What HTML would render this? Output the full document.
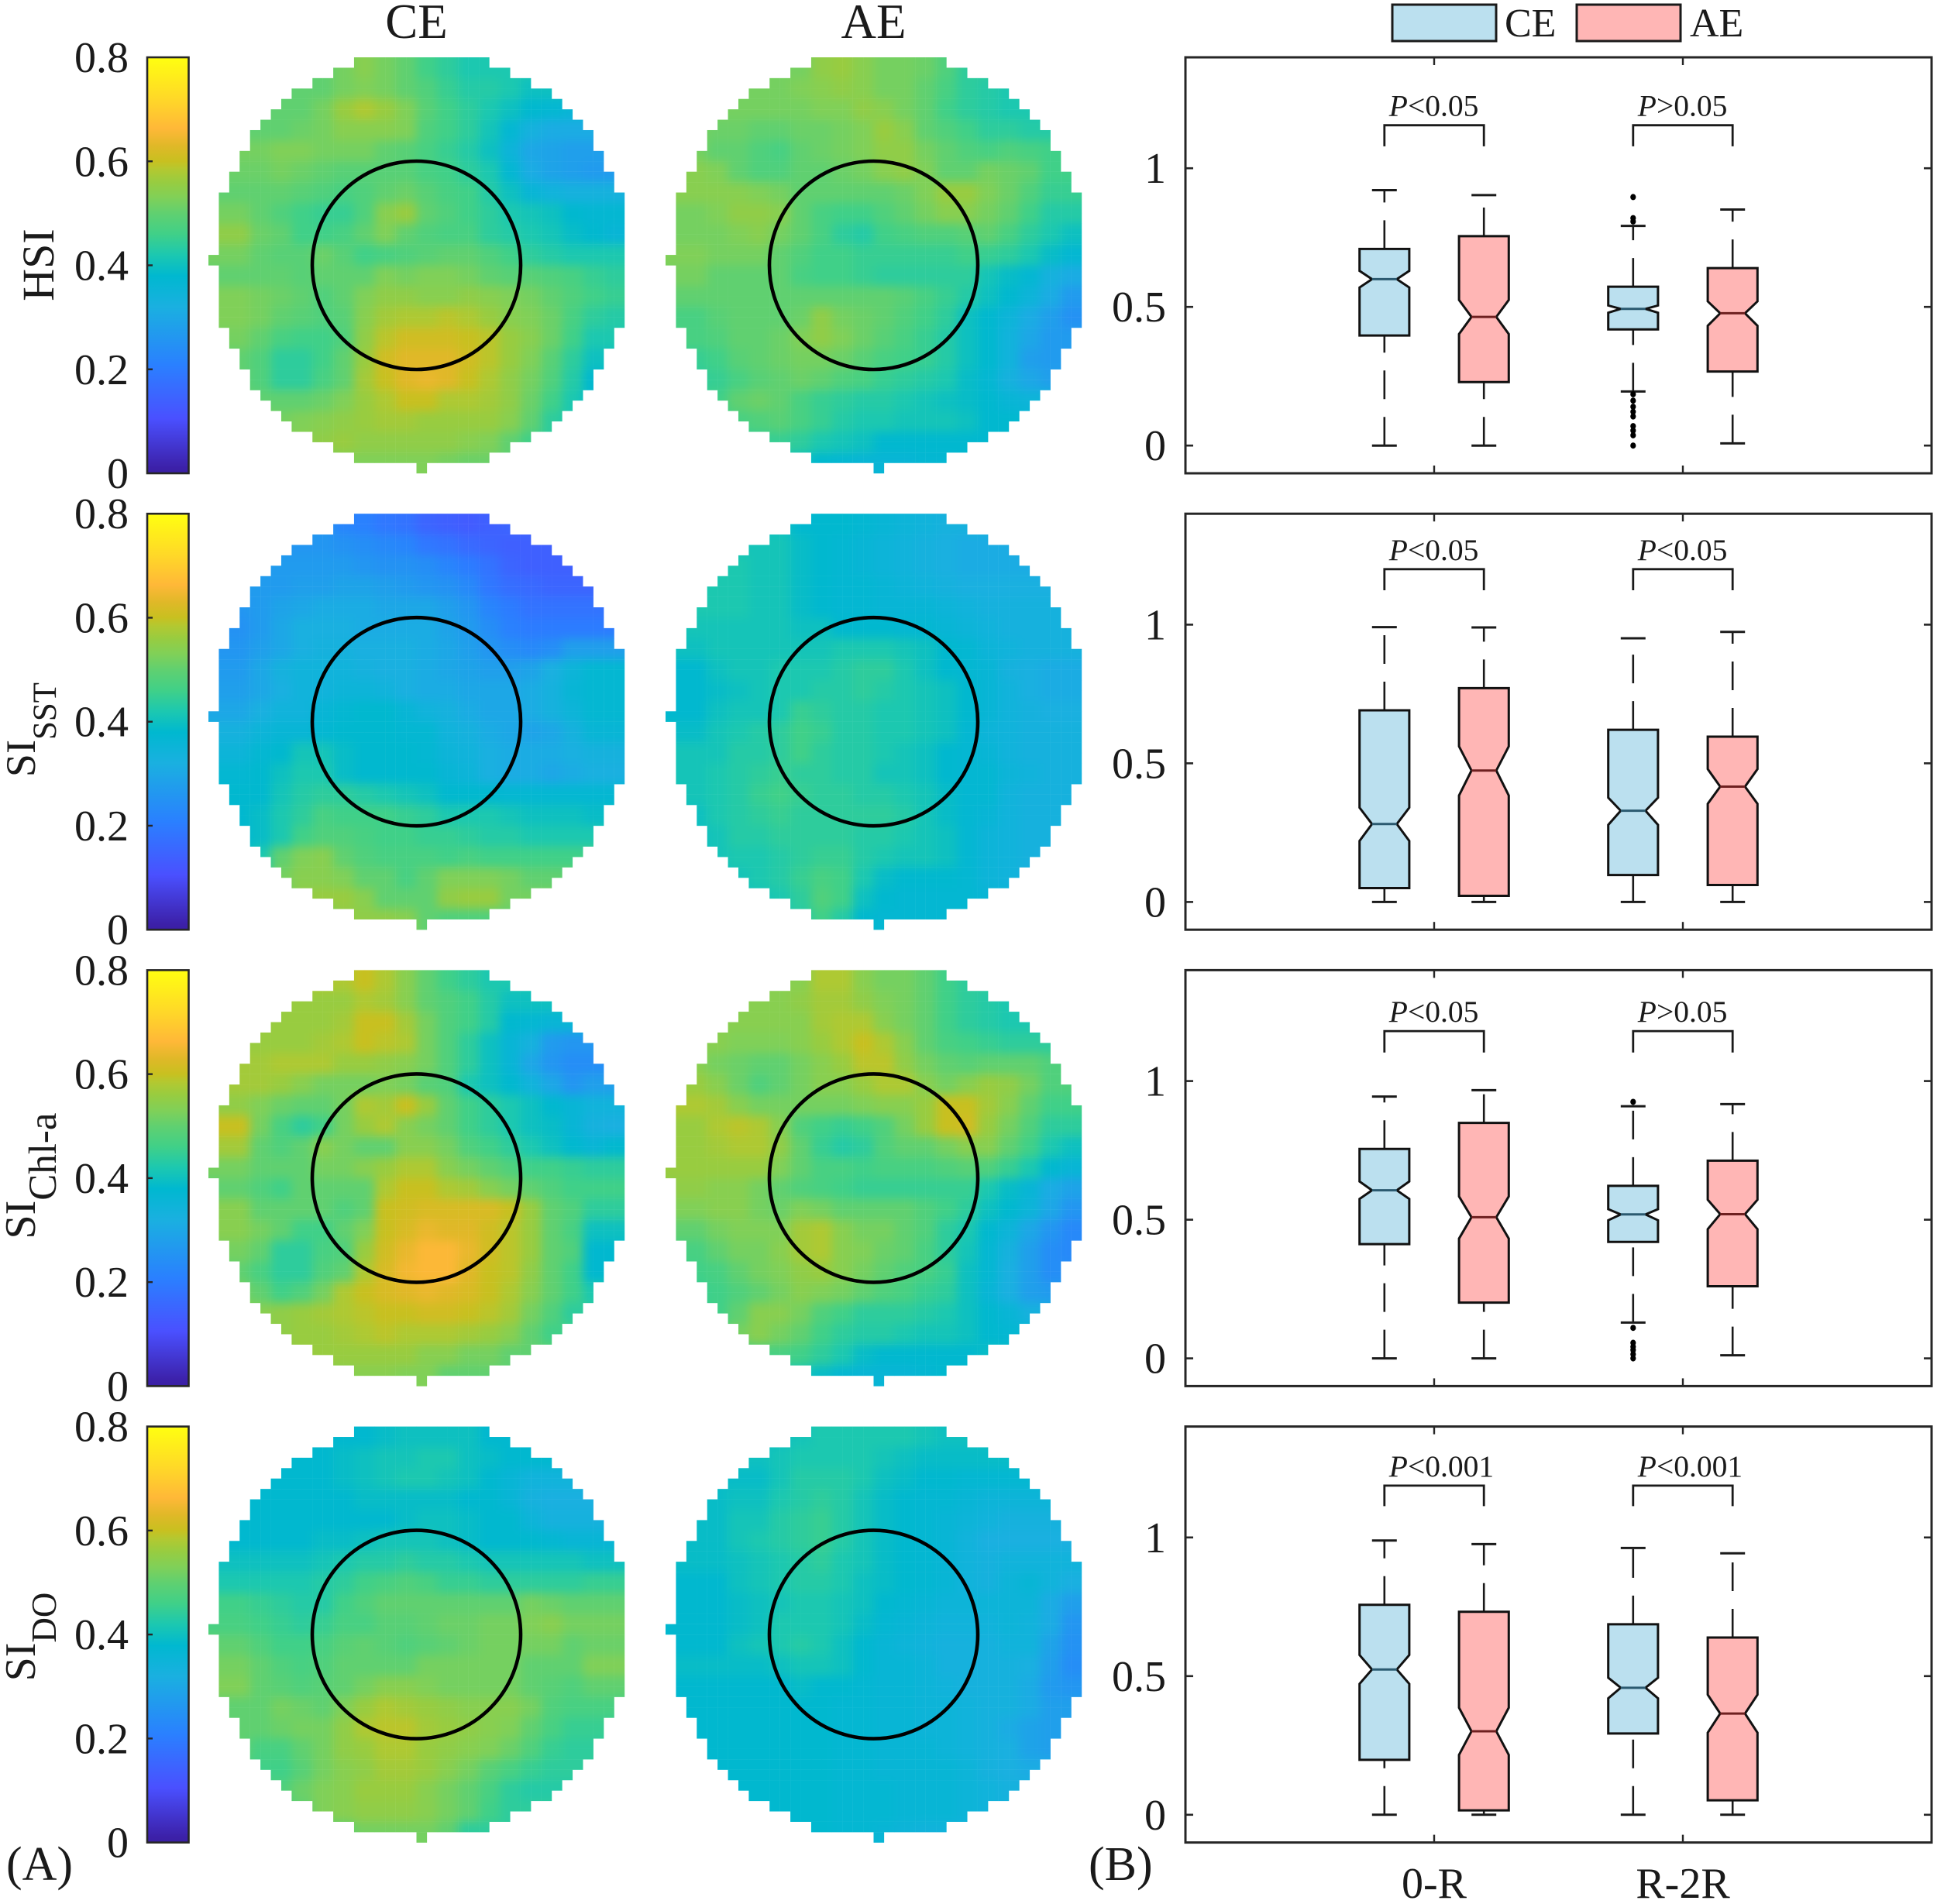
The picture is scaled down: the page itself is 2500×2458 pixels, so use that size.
<!DOCTYPE html>
<html lang="en">
<head>
<meta charset="utf-8">
<title>HSI and SI composites with notched box plots</title>
<style>
html,body{margin:0;padding:0;background:#fff;}
svg{display:block;font-family:"Liberation Serif",serif;fill:#1a1a1a;}
</style>
</head>
<body>
<svg id="fig" xmlns="http://www.w3.org/2000/svg" width="2500" height="2458" viewBox="0 0 2500 2458">
<defs id="defs"></defs>
<rect x="0" y="0" width="2500" height="2458" fill="#fff"/>
<g id="maps"></g>
<g id="colorbars"></g>
<g id="boxes"></g>

<text x="537.5" y="49" font-size="63" text-anchor="middle">CE</text>
<text x="1127.5" y="49" font-size="63" text-anchor="middle">AE</text>

<text transform="translate(69,342) rotate(-90)" font-size="58" text-anchor="middle">HSI</text>
<text transform="translate(45,942) rotate(-90)" font-size="54" text-anchor="middle">SI<tspan font-size="43" dy="27">SST</tspan></text>
<text transform="translate(45,1518) rotate(-90)" font-size="56" text-anchor="middle">SI<tspan font-size="51" dy="27">Chl-a</tspan></text>
<text transform="translate(45,2113) rotate(-90)" font-size="56" text-anchor="middle">SI<tspan font-size="45" dy="27">DO</tspan></text>

<text x="8" y="2427" font-size="62">(A)</text>
<text x="1405" y="2427" font-size="62">(B)</text>

<g>
<rect x="1797" y="6" width="134" height="47" fill="#bbe0ef" stroke="#1a1a1a" stroke-width="3"/>
<text x="1942" y="47" font-size="52">CE</text>
<rect x="2035" y="6" width="134" height="47" fill="#ffb6b5" stroke="#1a1a1a" stroke-width="3"/>
<text x="2181" y="47" font-size="52">AE</text>
</g>
</svg>

<script>
/* ---------- Box plot data: one row per panel, one value per box ---------- */
const panelNames = ['hsi','si-sst','si-chl-a','si-do'];
const boxGroups = ['0-R CE','0-R AE','R-2R CE','R-2R AE'];
const xCategories = ['0-R','R-2R'];
const boxTickLabels = ['0','0.5','1'];
const boxTickValues = [0,0.5,1];
const whiskerLow = [[0,0,.195,.008],[0,0,0,0],[0,0,.129,.011],[0,0,0,0]];
const quartile1 = [[.397,.229,.419,.267],[.05,.022,.097,.061],[.412,.201,.42,.26],[.198,.016,.293,.052]];
const notchLow = [[.57,.402,.479,.432],[.22,.384,.278,.354],[.575,.432,.498,.466],[.472,.216,.42,.296]];
const median = [[.6,.464,.493,.477],[.281,.474,.329,.416],[.606,.509,.519,.52],[.524,.301,.458,.365]];
const notchHigh = [[.63,.525,.505,.52],[.34,.561,.376,.479],[.638,.584,.538,.572],[.576,.386,.494,.433]];
const quartile3 = [[.709,.755,.573,.64],[.691,.771,.621,.596],[.755,.849,.622,.713],[.757,.732,.687,.639]];
const whiskerHigh = [[.921,.903,.792,.851],[.991,.99,.951,.974],[.944,.967,.909,.917],[.989,.976,.962,.943]];
const outliers = [
 [[],[],[.896,.82,.808,.185,.162,.14,.122,.105,.07,.054,.037,0],[]],
 [[],[],[],[]],
 [[],[],[.925,.11,.056,.042,.03,.015,0],[]],
 [[],[],[],[]]
];
const pLabels = [['<0.05','>0.05'],['<0.05','<0.05'],['<0.05','>0.05'],['<0.001','<0.001']];
const bracketTop = [1.155,1.2,1.18,1.187];
const bracketEnd = [1.079,1.124,1.103,1.113];

/* ---------- Colour bar ---------- */
const colorbarTickLabels = ['0','0.2','0.4','0.6','0.8'];
const colorbarTickValues = [0,0.2,0.4,0.6,0.8];
const colormapValues = [0,.01,.105,.208,.32,.379,.42,.46,.5,.53,.56,.585,.6,.63,.663,.72,.8];
const colormapColors = ['#3a1fa5','#3c20a8','#4a50ff','#2a80ff','#1ab0e0','#00b8d0','#1cc8b0','#40d088','#60d070','#80d058','#98cc40','#b4c830','#c8c020','#e0b828','#ffb838','#ffd828','#ffff10'];

/* ---------- Map values (colour-bar units x 100), read block by block, top row first ---------- */
const hsiCE = [
[50,50,50,50,50,50,52,54,52,50,46,44,42,42,42,42,42,42,42,42],
[50,50,50,50,50,50,52,53,52,50,48,45,43,43,42,40,40,40,40,40],
[50,50,50,50,50,52,56,58,56,53,49,46,44,42,40,38,37,36,36,36],
[50,50,50,50,51,52,54,54,54,53,48,46,44,41,37,33,31,31,31,31],
[52,52,52,53,53,52,52,52,50,49,47,45,43,40,35,30,29,28,28,28],
[51,51,51,52,51,50,49,49,49,49,47,46,44,42,37,31,29,28,27,27],
[50,50,50,50,49,48,47,48,50,51,49,47,46,43,40,36,34,33,33,33],
[52,52,50,48,46,45,45,48,54,56,50,48,46,44,42,41,40,38,37,37],
[55,55,51,50,46,46,47,50,53,50,48,47,47,44,43,42,41,39,38,36],
[52,52,50,49,49,51,49,46,47,48,49,50,50,48,46,44,43,42,42,42],
[50,50,50,50,49,50,50,50,53,52,53,53,52,50,49,49,48,47,45,44],
[53,53,52,51,50,48,50,53,55,55,54,54,55,54,53,52,50,48,46,45],
[53,53,52,50,49,48,49,54,57,58,58,59,58,56,54,53,51,47,44,43],
[52,52,50,47,46,46,48,55,59,61,61,61,60,59,56,54,51,46,42,42],
[50,50,48,44,44,46,50,56,61,63,63,63,61,59,56,53,49,44,40,40],
[50,50,48,44,44,47,50,57,60,63,64,63,60,58,55,52,48,43,38,38],
[50,50,50,50,50,51,53,56,58,60,60,58,58,57,55,51,46,42,38,38],
[52,52,52,52,53,54,55,56,57,57,56,56,56,56,54,50,44,42,42,42],
[52,52,52,53,54,55,56,55,55,55,55,55,54,53,50,46,44,44,44,44],
[52,52,52,52,52,52,53,53,53,53,53,52,51,51,50,50,50,50,50,50]];
const hsiAE = [
[52,52,52,52,52,52,52,55,56,54,52,52,51,48,44,44,44,44,44,44],
[52,52,52,52,52,52,53,54,55,54,52,52,50,47,44,43,42,42,42,42],
[52,52,52,52,52,52,52,53,53,55,54,52,50,46,44,43,42,42,42,42],
[52,52,51,51,50,50,51,51,52,53,56,54,50,48,46,44,44,43,43,43],
[52,52,50,50,48,47,50,51,52,53,55,55,52,50,48,47,48,47,46,46],
[54,54,53,50,48,48,50,50,51,52,54,55,53,50,50,52,51,50,46,46],
[54,54,54,54,53,52,50,50,50,50,50,51,53,56,56,53,51,48,45,45],
[52,52,53,55,55,54,50,47,46,46,48,50,52,54,54,52,50,46,43,43],
[52,52,52,53,54,52,50,47,44,43,46,47,48,48,49,50,47,44,42,40],
[53,53,52,52,52,50,48,46,46,45,45,45,45,45,46,45,44,42,39,37],
[52,52,50,50,50,50,47,46,46,45,44,44,44,44,44,41,39,37,33,31],
[50,50,50,50,50,50,50,50,50,50,50,49,47,45,43,40,38,35,31,27],
[47,47,49,50,50,50,51,55,52,51,50,48,46,44,40,38,35,31,28,25],
[47,47,48,50,50,51,53,55,53,51,49,47,45,43,40,38,34,30,27,27],
[45,45,46,49,50,51,52,52,51,49,47,46,45,43,40,38,34,28,27,27],
[44,44,45,47,49,50,51,50,48,47,45,44,43,42,39,37,33,30,28,28],
[45,45,46,50,51,50,47,45,44,43,43,42,41,40,39,38,36,35,35,35],
[44,44,45,47,48,49,47,45,43,42,42,41,41,41,40,38,38,37,37,37],
[44,44,44,44,45,45,44,42,41,40,38,38,38,38,38,38,38,38,38,38],
[42,42,42,42,42,41,40,38,37,36,36,36,37,37,38,38,38,38,38,38]];
const sstCE = [
[26,26,26,26,26,26,22,21,19,18,15,14,13,14,15,15,15,15,15,15],
[26,26,26,26,26,26,25,24,23,22,19,18,16,15,14,14,14,14,14,14],
[27,27,27,27,27,27,27,26,25,25,24,22,20,18,15,14,14,14,14,14],
[27,27,27,27,28,28,29,29,28,27,26,25,23,19,17,16,15,15,15,15],
[26,26,27,29,30,31,31,31,30,30,30,28,26,22,20,18,18,18,18,18],
[25,25,27,30,32,32,32,31,31,31,31,29,27,24,21,20,20,20,20,20],
[26,26,28,30,32,33,33,32,32,32,31,30,28,26,24,23,24,28,28,28],
[27,27,30,33,34,34,34,33,32,32,31,30,29,28,28,29,32,35,37,37],
[28,28,30,32,34,34,35,35,34,32,31,31,30,30,30,31,33,36,37,37],
[30,30,32,34,34,36,37,38,38,36,34,33,31,30,30,31,33,35,37,37],
[33,33,35,36,36,37,38,38,38,37,37,34,33,31,30,29,30,33,36,36],
[35,35,37,38,41,41,39,38,38,38,37,35,34,32,31,31,31,32,33,33],
[37,37,38,40,42,42,39,38,38,38,38,36,35,32,31,31,30,31,32,32],
[38,38,38,41,43,44,44,43,42,41,40,38,38,38,37,37,37,37,37,37],
[38,38,39,42,44,47,46,46,46,45,44,42,42,42,41,40,40,40,39,39],
[38,38,39,42,46,48,48,47,46,46,45,45,44,43,43,42,42,42,42,42],
[38,38,42,50,53,54,50,48,47,47,47,46,47,46,46,46,46,46,46,46],
[42,42,42,52,54,54,53,50,50,47,50,53,53,53,52,50,50,50,50,50],
[44,44,44,50,55,56,56,54,50,50,50,55,56,56,52,52,52,52,52,52],
[50,50,50,50,50,50,55,55,55,54,50,48,48,48,50,50,50,50,50,50]];
const sstAE = [
[40,40,40,40,40,40,38,38,38,37,36,35,34,33,33,33,33,33,33,33],
[41,41,41,41,41,41,39,38,37,36,35,34,33,32,31,31,31,31,31,31],
[42,42,42,42,41,41,39,38,37,36,35,34,33,32,31,31,31,31,31,31],
[42,42,42,42,41,41,39,38,37,37,36,35,34,33,32,32,32,32,32,32],
[42,42,42,42,41,41,39,38,37,37,36,36,36,35,34,33,33,33,33,33],
[41,41,41,41,41,41,40,40,38,38,38,37,37,36,35,34,33,33,33,33],
[40,40,41,41,41,41,41,41,42,42,42,41,40,38,37,35,34,33,33,33],
[38,38,40,41,41,42,42,42,43,44,44,42,40,38,37,36,33,32,31,31],
[38,38,39,40,41,42,42,43,43,44,43,42,41,40,38,36,34,32,31,31],
[38,38,40,41,41,42,45,44,43,43,42,42,41,40,38,36,34,33,32,32],
[39,39,41,42,43,44,46,45,43,43,42,42,41,40,37,35,34,33,33,33],
[41,41,41,43,43,44,46,44,43,43,42,41,40,38,37,36,34,33,33,33],
[41,41,42,43,44,45,44,44,43,43,41,41,40,38,37,37,35,34,33,33],
[41,41,42,43,45,46,45,44,44,43,43,42,41,39,37,37,34,33,33,33],
[40,40,42,43,44,45,44,44,44,44,44,43,41,39,37,36,34,33,33,33],
[40,40,41,43,43,44,44,44,44,43,43,42,41,40,37,35,34,33,33,33],
[40,40,41,42,42,43,44,45,45,43,42,41,41,40,37,35,34,33,32,32],
[40,40,40,41,42,43,45,47,46,42,39,38,38,38,37,35,34,33,33,33],
[40,40,40,40,41,42,44,48,46,40,38,37,37,37,37,36,36,36,36,36],
[42,42,42,42,42,42,43,46,43,38,37,37,37,37,37,37,37,37,37,37]];
const chlCE = [
[58,58,58,58,58,58,58,60,58,54,50,46,44,42,42,42,42,42,42,42],
[56,56,56,56,56,56,56,58,57,54,50,48,46,43,40,40,40,40,40,40],
[56,56,56,56,56,56,57,60,60,57,52,48,46,43,38,37,36,36,36,36],
[56,56,56,56,56,57,58,60,59,58,52,48,44,40,36,33,27,26,26,26],
[57,57,57,58,58,58,56,56,55,54,52,48,44,40,36,30,26,24,24,24],
[57,57,57,56,54,52,52,52,53,52,49,48,42,40,38,34,30,26,28,28],
[55,55,53,51,50,50,52,58,57,60,56,50,46,44,42,40,38,36,34,34],
[60,60,52,47,44,46,52,56,58,54,52,50,46,44,42,40,39,36,33,32],
[57,57,50,48,50,54,52,50,50,54,54,52,48,46,44,42,40,38,36,38],
[52,52,50,50,50,52,52,54,56,58,58,54,52,50,48,46,46,45,44,44],
[50,50,48,46,50,50,50,50,58,60,60,58,57,54,52,50,48,46,46,46],
[54,54,50,50,50,50,48,50,60,61,62,62,62,62,60,56,50,48,44,44],
[54,54,52,50,46,46,50,53,60,62,64,63,63,61,59,56,50,47,40,40],
[52,52,50,44,44,47,48,56,61,64,66,66,64,61,59,56,50,48,38,38],
[50,50,47,44,44,48,50,58,62,65,66,66,63,60,59,55,50,46,38,38],
[52,52,50,46,48,52,58,60,62,63,64,63,62,60,58,54,50,46,42,42],
[54,54,54,55,56,57,58,59,60,60,61,61,60,59,57,52,48,44,44,44],
[55,55,55,55,56,56,57,58,59,58,58,58,57,56,54,50,46,46,46,46],
[55,55,55,55,56,56,56,56,56,56,54,54,52,52,50,50,50,50,50,50],
[54,54,54,54,54,54,54,54,54,53,53,50,50,50,50,50,50,50,50,50]];
const chlAE = [
[54,54,54,54,54,54,54,58,58,54,52,52,50,46,44,44,44,44,44,44],
[54,54,54,54,54,54,55,57,57,55,53,52,50,46,44,43,42,42,42,42],
[54,54,54,54,54,54,54,57,58,58,54,52,50,46,44,43,42,42,42,42],
[54,54,54,53,53,53,54,56,58,60,58,54,50,47,46,45,44,44,44,44],
[54,54,52,51,50,50,52,54,56,59,59,55,52,50,49,50,50,50,48,48],
[56,56,54,51,48,50,52,54,54,56,58,58,54,52,54,56,55,52,48,48],
[58,58,57,54,52,52,52,52,52,53,54,54,56,60,60,57,54,50,46,46],
[56,56,58,59,58,54,48,46,45,46,48,52,56,60,61,56,52,48,44,44],
[56,56,57,58,58,55,50,45,43,44,48,50,50,52,54,54,50,46,42,40],
[56,56,56,56,56,53,50,47,47,46,47,47,47,48,49,48,45,42,38,36],
[55,55,54,54,52,50,48,47,46,45,45,45,45,45,45,42,39,36,31,29],
[53,53,54,54,52,51,53,52,50,50,50,50,48,46,44,40,38,35,30,26],
[50,50,52,53,53,53,57,58,54,52,52,50,48,44,42,38,35,30,26,23],
[47,47,50,52,52,54,57,58,54,53,51,50,47,44,41,37,33,28,24,23],
[46,46,47,50,52,53,55,56,54,52,50,48,47,45,40,37,32,28,24,24],
[45,45,46,48,50,52,54,53,52,50,48,47,45,44,40,36,32,28,27,27],
[45,45,46,50,54,54,52,48,46,44,44,44,43,42,40,38,36,33,33,33],
[47,47,48,52,54,52,50,46,44,43,43,42,41,41,40,38,37,37,37,37],
[46,46,46,46,47,47,46,44,42,39,38,38,38,38,38,39,39,39,39,39],
[42,42,42,42,42,42,41,39,37,36,36,36,37,38,38,38,38,38,38,38]];
const doCE = [
[38,38,38,38,38,38,38,38,39,40,40,40,40,38,38,38,38,38,38,38],
[38,38,38,38,38,38,39,40,41,41,42,42,40,39,38,38,38,38,38,38],
[38,38,38,38,38,38,39,40,41,42,42,41,40,38,36,34,34,34,34,34],
[38,38,38,38,38,38,38,39,39,39,39,39,38,38,36,33,32,32,32,32],
[38,38,38,38,38,38,38,38,38,39,40,40,39,38,38,35,33,33,33,33],
[38,38,38,38,38,39,39,40,41,41,41,40,39,38,38,38,37,36,36,36],
[40,40,40,40,40,41,42,43,43,44,43,43,42,41,41,41,41,41,40,40],
[42,42,42,42,42,43,44,46,47,48,47,45,45,44,44,44,44,44,45,45],
[46,46,45,44,43,43,46,48,50,50,50,50,50,50,50,52,51,50,50,50],
[47,47,46,45,44,45,47,47,49,49,50,51,51,52,52,53,54,52,52,52],
[50,50,48,46,46,47,49,50,49,48,49,50,51,52,52,52,52,50,51,51],
[52,52,50,48,47,48,50,50,50,50,52,52,52,52,52,50,50,50,53,53],
[53,53,50,49,48,49,50,52,54,54,53,52,52,52,52,50,49,48,50,50],
[50,50,50,52,51,50,53,56,58,57,56,55,54,54,54,52,48,47,47,47],
[50,50,50,51,52,52,55,58,59,59,57,56,55,54,53,50,47,45,45,45],
[50,50,47,47,50,52,55,56,58,58,56,55,54,53,51,48,45,44,44,44],
[48,48,46,46,49,52,54,55,57,57,56,54,52,49,47,45,44,44,44,44],
[48,48,47,48,51,53,54,56,56,56,54,52,50,47,44,43,43,43,43,43],
[48,48,48,48,50,53,54,55,55,55,54,52,50,46,44,44,44,44,44,44],
[50,50,50,50,50,50,50,52,52,52,52,50,44,44,44,44,44,44,44,44]];
const doAE = [
[40,40,40,40,40,40,41,42,42,42,42,42,41,40,40,40,40,40,40,40],
[40,40,40,40,40,41,42,42,42,42,41,40,39,39,39,39,39,39,39,39],
[39,39,39,39,39,41,43,43,43,42,40,39,38,38,37,37,37,37,37,37],
[39,39,39,40,40,42,43,44,43,41,39,38,37,37,36,35,35,35,35,35],
[39,39,39,41,41,43,44,45,43,41,39,38,37,36,35,34,33,33,33,33],
[39,39,39,41,42,43,44,45,43,41,39,38,37,36,34,32,32,32,32,32],
[39,39,39,40,41,42,43,44,42,41,39,38,37,36,34,33,34,34,34,34],
[38,38,38,40,41,42,43,43,42,40,39,38,37,36,34,33,35,36,34,32],
[38,38,38,39,40,41,42,42,41,40,38,37,36,35,35,35,35,35,31,28],
[38,38,38,39,40,42,42,42,41,39,37,36,35,34,34,34,35,34,31,26],
[38,38,38,40,41,42,43,42,40,38,36,35,34,33,33,33,34,34,29,25],
[39,39,39,39,39,40,41,41,40,38,36,36,35,33,33,33,33,32,28,24],
[38,38,38,38,38,38,39,38,38,37,36,36,35,34,33,33,33,31,27,26],
[38,38,38,38,38,38,38,38,37,37,36,36,35,35,34,33,33,31,28,28],
[38,38,38,38,38,38,38,38,37,37,36,36,35,35,34,33,31,29,28,28],
[38,38,38,38,38,38,38,38,37,37,36,36,36,35,34,33,32,29,28,28],
[38,38,38,38,38,38,38,38,37,37,36,36,36,36,35,33,32,31,31,31],
[38,38,38,38,38,38,38,38,37,37,37,36,36,36,35,34,33,33,33,33],
[38,38,38,38,38,38,38,38,37,37,37,36,36,36,35,34,34,34,34,34],
[38,38,38,38,38,38,38,38,37,37,36,35,34,34,34,34,34,34,34,34]];
const mapRows = [[hsiCE,hsiAE],[sstCE,sstAE],[chlCE,chlAE],[doCE,doAE]];
const mapColumns = ['ce','ae'];

/* ---------- Layout and scales ---------- */
const NS = 'http://www.w3.org/2000/svg';
const rowTop = p => 74 + 589.2 * p;
const PLOT_H = 537;
const INK = '#1a1a1a';
const AXIS = '#262626';

function mk(tag, parent, attrs) {
  const el = document.createElementNS(NS, tag);
  for (const k in attrs) el.setAttribute(k, attrs[k]);
  parent.appendChild(el);
  return el;
}
const yBox = (p, v) => rowTop(p) + (1.4 - v) * PLOT_H / 1.5;
const xBox = v => 1530 + v * 321;
const yBar = (p, v) => rowTop(p) + (0.8 - v) * PLOT_H / 0.8;
const boxCenter = i => [0.8, 1.2, 1.8, 2.2][i];

function hex(c) { return [1, 3, 5].map(k => parseInt(c.substr(k, 2), 16)); }
function colorFor(v) {
  const n = colormapValues.length;
  if (v <= colormapValues[0]) return colormapColors[0];
  for (let k = 1; k < n; k++) {
    if (v <= colormapValues[k]) {
      const t = (v - colormapValues[k - 1]) / (colormapValues[k] - colormapValues[k - 1]);
      const a = hex(colormapColors[k - 1]), b = hex(colormapColors[k]);
      return 'rgb(' + a.map((x, m) => Math.round(x + (b[m] - x) * t)).join(',') + ')';
    }
  }
  return colormapColors[n - 1];
}

/* ---------- Shared defs ---------- */
const defs = document.getElementById('defs');
const grad = mk('linearGradient', defs, {id: 'cmap', x1: 0, y1: 1, x2: 0, y2: 0});
colormapValues.forEach((v, k) => {
  mk('stop', grad, {offset: v / 0.8, 'stop-color': colormapColors[k]});
});
const blur = mk('filter', defs, {id: 'soft', filterUnits: 'userSpaceOnUse', x: -330, y: -330, width: 660, height: 660, 'color-interpolation-filters': 'sRGB'});
mk('feGaussianBlur', blur, {stdDeviation: 6.5});

/* Disk mask: a 41-node grid drawn as 40x40 flat cells, lower-left node decides */
const CELL = 268.5 / 20;
const clip = mk('clipPath', defs, {id: 'disk'});
for (let j = -20; j < 20; j++) {
  for (let i = -20; i < 20; i++) {
    if (i * i + j * j <= 400) {
      mk('rect', clip, {x: i * CELL, y: -(j + 1) * CELL, width: CELL + 0.2, height: CELL + 0.2});
    }
  }
}

/* ---------- Heat maps ---------- */
const mapsRoot = document.getElementById('maps');
const mapCentre = [537.5, 1127.5];
mapRows.forEach((pair, p) => {
  pair.forEach((grid, c) => {
    const g = mk('g', mapsRoot, {transform: 'translate(' + mapCentre[c] + ',' + (rowTop(p) + PLOT_H / 2) + ')', 'clip-path': 'url(#disk)'});
    
    
    const soft = mk('g', g, {filter: 'url(#soft)'});
    const n = grid.length;
    const bw = 40 * CELL / n;
    grid.forEach((row, j) => {
      row.forEach((val, i) => {
        let x = -20 * CELL + i * bw, y = -20 * CELL + j * bw, w = bw + 0.5, h = bw + 0.5;
        if (i === 0) { x -= 40; w += 40; }
        if (j === 0) { y -= 40; h += 40; }
        if (i === n - 1) w += 40;
        if (j === n - 1) h += 40;
        const cell = mk('rect', soft, {x: x, y: y, width: w, height: h, fill: colorFor(val / 100)});
        
        
      });
    });
    const ring = mk('circle', mapsRoot, {cx: mapCentre[c], cy: rowTop(p) + PLOT_H / 2, r: 134.5, fill: 'none', stroke: '#000', 'stroke-width': 4.6});
    
    
  });
});

/* ---------- Colour bars ---------- */
const barsRoot = document.getElementById('colorbars');
panelNames.forEach((name, p) => {
  const bar = mk('rect', barsRoot, {x: 190, y: rowTop(p), width: 53.5, height: PLOT_H, fill: 'url(#cmap)', stroke: AXIS, 'stroke-width': 2.6});
  
  
  colorbarTickValues.forEach((v, k) => {
    const y = yBar(p, v);
    if (v > 0 && v < 0.8) {
      const tick = mk('line', barsRoot, {x1: 190, x2: 197, y1: y, y2: y, stroke: AXIS, 'stroke-width': 2.4});
      
      
    }
    const label = mk('text', barsRoot, {x: 166, y: y + 19, 'font-size': 56, 'text-anchor': 'end'});
    
    
    label.textContent = colorbarTickLabels[k];
  });
});

/* ---------- Box plots ---------- */
const boxesRoot = document.getElementById('boxes');
const boxFill = ['#bbe0ef', '#ffb6b5', '#bbe0ef', '#ffb6b5'];
const medianInk = ['#2b5a70', '#6e2020', '#2b5a70', '#6e2020'];
panelNames.forEach((name, p) => {
  const panel = mk('g', boxesRoot, {});
  
  
  const frame = mk('rect', panel, {x: xBox(0), y: rowTop(p), width: 963, height: PLOT_H, fill: 'none', stroke: AXIS, 'stroke-width': 3});
  
  

  boxTickValues.forEach((v, k) => {
    const y = yBox(p, v);
    [[xBox(0), xBox(0) + 10], [xBox(3) - 10, xBox(3)]].forEach(s => {
      const t = mk('line', panel, {x1: s[0], x2: s[1], y1: y, y2: y, stroke: AXIS, 'stroke-width': 2.6});
      
      
    });
    const lab = mk('text', panel, {x: 1505, y: y + 19, 'font-size': 56, 'text-anchor': 'end'});
    
    
    lab.textContent = boxTickLabels[k];
  });

  xCategories.forEach((cat, k) => {
    const x = xBox(k + 1);
    [[rowTop(p), rowTop(p) + 10], [rowTop(p) + PLOT_H - 10, rowTop(p) + PLOT_H]].forEach(s => {
      const t = mk('line', panel, {x1: x, x2: x, y1: s[0], y2: s[1], stroke: AXIS, 'stroke-width': 2.4});
      
      
    });
    if (p === panelNames.length - 1) {
      const lab = mk('text', panel, {x: x, y: 2450, 'font-size': 56, 'text-anchor': 'middle'});
      
      
      lab.textContent = cat;
    }
    /* significance bracket and label */
    const xa = xBox(k + 0.8), xb = xBox(k + 1.2);
    const top = yBox(p, bracketTop[p]), end = yBox(p, bracketEnd[p]);
    const br = mk('path', panel, {d: 'M' + xa + ' ' + end + 'V' + top + 'H' + xb + 'V' + end, fill: 'none', stroke: INK, 'stroke-width': 2.8});
    
    
    const pt = mk('text', panel, {x: xa + 6, y: top - 12, 'font-size': 39.5});
    
    
    const it = mk('tspan', pt, {'font-style': 'italic'});
    it.textContent = 'P';
    const rest = mk('tspan', pt, {});
    rest.textContent = pLabels[p][k];
  });

  boxGroups.forEach((group, b) => {
    const g = mk('g', panel, {});
    
    
    const x = xBox(boxCenter(b));
    const W = 32.1, N = 16;
    const Y = v => yBox(p, v);
    /* whiskers: the dash pattern always runs upward */
    [[whiskerLow[p][b], quartile1[p][b]], [quartile3[p][b], whiskerHigh[p][b]]].forEach(w => {
      const wl = mk('line', g, {x1: x, x2: x, y1: Y(w[0]), y2: Y(w[1]), stroke: INK, 'stroke-width': 2.6, 'stroke-dasharray': '37 23'});
      
      
    });
    [whiskerLow[p][b], whiskerHigh[p][b]].forEach(v => {
      const cap = mk('line', g, {x1: x - N, x2: x + N, y1: Y(v), y2: Y(v), stroke: INK, 'stroke-width': 3});
      
      
    });
    const d = 'M' + (x - W) + ' ' + Y(quartile1[p][b]) +
      'L' + (x - W) + ' ' + Y(notchLow[p][b]) +
      'L' + (x - N) + ' ' + Y(median[p][b]) +
      'L' + (x - W) + ' ' + Y(notchHigh[p][b]) +
      'L' + (x - W) + ' ' + Y(quartile3[p][b]) +
      'L' + (x + W) + ' ' + Y(quartile3[p][b]) +
      'L' + (x + W) + ' ' + Y(notchHigh[p][b]) +
      'L' + (x + N) + ' ' + Y(median[p][b]) +
      'L' + (x + W) + ' ' + Y(notchLow[p][b]) +
      'L' + (x + W) + ' ' + Y(quartile1[p][b]) + 'Z';
    const body = mk('path', g, {d: d, fill: boxFill[b], stroke: '#111', 'stroke-width': 3, 'stroke-linejoin': 'miter'});
    
    
    const med = mk('line', g, {x1: x - N, x2: x + N, y1: Y(median[p][b]), y2: Y(median[p][b]), stroke: medianInk[b], 'stroke-width': 3});
    
    
    outliers[p][b].forEach(v => {
      const dot = mk('ellipse', g, {cx: x, cy: Y(v), rx: 3.6, ry: 4, fill: '#000'});
      
      
    });
  });
});
</script>
</body>
</html>
